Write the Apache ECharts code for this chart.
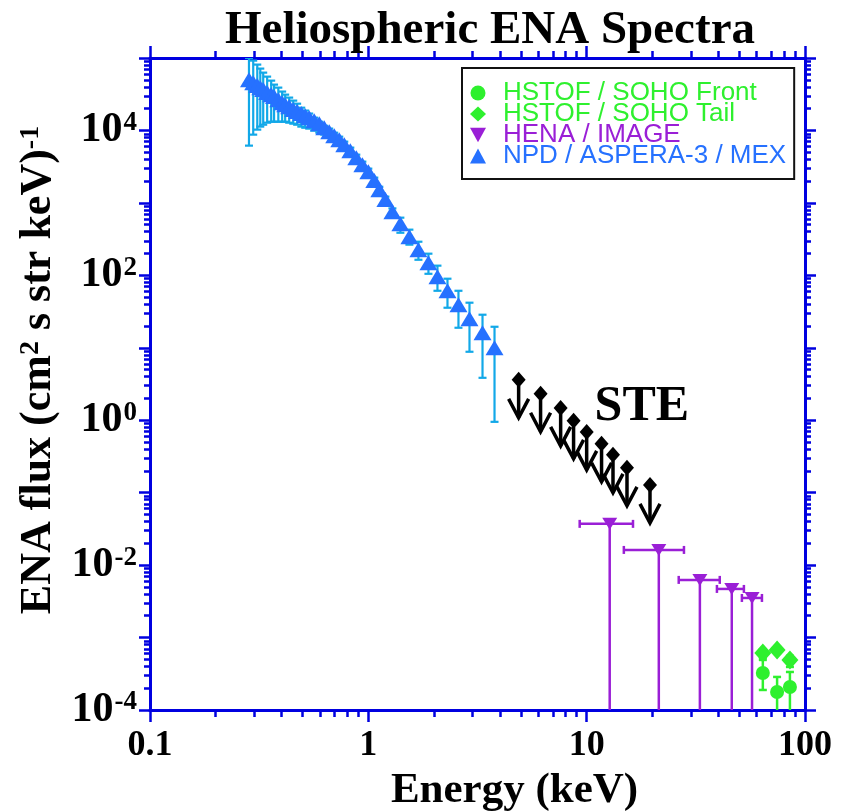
<!DOCTYPE html>
<html>
<head>
<meta charset="utf-8">
<title>Heliospheric ENA Spectra</title>
<script src="https://cdn.jsdelivr.net/npm/echarts@6/dist/echarts.min.js"></script>
<style>
  html, body { margin: 0; padding: 0; background: #fff; }
  #chart { width: 853px; height: 812px; }
</style>
</head>
<body>
<div id="chart"></div>
<script>
// Tick values (log axes)
const X_MAJOR = [0.1, 1, 10, 100]
const X_MINOR = [0.2, 0.3, 0.4, 0.5, 0.6, 0.7, 0.8, 0.9, 2, 3, 4, 5, 6, 7, 8, 9, 20, 30, 40, 50, 60, 70, 80, 90]
const Y_MAJOR = [1e-4, 1e-3, 1e-2, 1e-1, 1, 10, 100, 1e3, 1e4, 1e5]
const Y_LABELS = [1e-4, 1e-2, 1, 100, 1e4]
const Y_MINOR = [
  2e-4, 3e-4, 4e-4, 5e-4, 6e-4, 7e-4, 8e-4, 9e-4,
  2e-3, 3e-3, 4e-3, 5e-3, 6e-3, 7e-3, 8e-3, 9e-3,
  0.02, 0.03, 0.04, 0.05, 0.06, 0.07, 0.08, 0.09,
  0.2, 0.3, 0.4, 0.5, 0.6, 0.7, 0.8, 0.9,
  2, 3, 4, 5, 6, 7, 8, 9,
  20, 30, 40, 50, 60, 70, 80, 90,
  200, 300, 400, 500, 600, 700, 800, 900,
  2e3, 3e3, 4e3, 5e3, 6e3, 7e3, 8e3, 9e3,
  2e4, 3e4, 4e4, 5e4, 6e4, 7e4, 8e4, 9e4
]

// NPD / ASPERA-3 / MEX
const NPD_E = [0.284, 0.297, 0.310, 0.320, 0.330, 0.344, 0.359, 0.370, 0.387, 0.403,
  0.416, 0.434, 0.453, 0.472, 0.493, 0.514, 0.536, 0.565, 0.596, 0.628,
  0.662, 0.698, 0.736, 0.776, 0.827, 0.881, 0.939, 1.0, 1.065, 1.123,
  1.197, 1.289, 1.402, 1.542, 1.696, 1.885, 2.073, 2.304, 2.587, 2.906, 3.334, 3.784]
const NPD_FLUX = [50000, 45700, 41600, 39000, 36600, 33300, 31200, 29300, 26600, 24200,
  22700, 21300, 19400, 18200, 17100, 16000, 15000, 13650, 12400, 10900,
  9620, 8470, 7460, 6370, 5260, 4210, 3370, 2700, 2030, 1520,
  1110, 755, 516, 341, 226, 149, 95.7, 61.2, 39.3, 25.2, 16.1, 10.0]
const NPD_HIGH = [100000, 92000, 81100, 71400, 62800, 55300, 48700, 42900, 39000, 34400,
  31200, 28400, 25800, 23400, 20600, 18800, 17100, 15000, 13200, 11600,
  10600, 9300, 8200, 7000, 5790, 4630, 3710, 2970, 2230, 1670,
  1220, 840, 625, 427, 291, 199, 136, 89.8, 61.2, 41.9, 28.6, 19.5]
const NPD_LOW = [6170, 8750, 10260, 11300, 12000, 12800, 13200, 13200, 13200, 13200,
  13200, 12800, 12400, 12000, 11300, 10900, 10600, 9930, 9330, 8750,
  8500, 7450, 6560, 5600, 4630, 3700, 2970, 2380, 1790, 1340,
  980, 660, 387, 265, 164, 105, 61.2, 35.7, 18.9, 8.81, 3.85, 0.95]

// STE upper limits
const STE_E = [4.88, 6.15, 7.60, 8.71, 10.0, 11.7, 13.2, 15.3, 19.5]
const STE_FLUX = [3.61, 2.32, 1.48, 0.98, 0.69, 0.472, 0.333, 0.220, 0.128]
const STE_LABEL_AT = [17.9, 1.54]

// HENA / IMAGE
const HENA_E = [12.75, 21.4, 33.0, 46.2, 57.2]
const HENA_FLUX = [0.0371, 0.0162, 0.00625, 0.00469, 0.00352]
const HENA_EMIN = [9.29, 14.8, 26.4, 39.5, 51.4]
const HENA_EMAX = [16.3, 27.9, 40.7, 52.5, 63.5]

// HSTOF / SOHO
const HSTOF_E = [64.1, 74.5, 85.3]
const FRONT_FLUX = [3.24e-4, 1.77e-4, 2.08e-4]
const FRONT_LOW = [1.89e-4, 9e-5, 9e-5]
const FRONT_HIGH = [4.91e-4, 2.86e-4, 3.35e-4]
const TAIL_FLUX = [6.12e-4, 6.75e-4, 4.91e-4]
const TAIL_LOW = [5.22e-4, 6.2e-4, 3.93e-4]
const TAIL_HIGH = [6.9e-4, 7.3e-4, 5.6e-4]

const GREEN = '#2ef02e'
const PURPLE = '#9a1fd6'
const BLUE = '#2671ff'
const BLUE_ERR = '#12a8e8'
const AXIS = '#0000e0'
const SERIF = '"Liberation Serif", "Times New Roman", serif'
const SANS = '"Liberation Sans", Arial, sans-serif'

// same rectangle for both grids; no auto-shrinking for labels
const GRID = { left: 150, top: 58, right: 48, bottom: 102, containLabel: false, outerBoundsMode: 'none' }

function logAxis(grid, pos, min, max, ticks, len, extra) {
  return Object.assign({
    type: 'log', logBase: 10, gridIndex: grid, position: pos, min, max,
    axisLine: { show: true, onZero: false, lineStyle: { color: AXIS, width: 3 } },
    axisTick: { show: true, customValues: ticks, length: len, lineStyle: { color: AXIS, width: 2.5 } },
    axisLabel: { show: false },
    splitLine: { show: false },
    minorTick: { show: false },
  }, extra || {})
}

// vertical error bars with caps
function vErr(color, cap, width) {
  return function (params, api) {
    const lo = api.coord([api.value(0), api.value(1)])
    const hi = api.coord([api.value(0), api.value(2)])
    const st = { stroke: color, lineWidth: width }
    return {
      type: 'group',
      children: [
        { type: 'line', shape: { x1: lo[0], y1: lo[1], x2: hi[0], y2: hi[1] }, style: st },
        { type: 'line', shape: { x1: hi[0] - cap, y1: hi[1], x2: hi[0] + cap, y2: hi[1] }, style: st },
        { type: 'line', shape: { x1: lo[0] - cap, y1: lo[1], x2: lo[0] + cap, y2: lo[1] }, style: st },
      ],
    }
  }
}

function henaErr(params, api) {
  const p = api.coord([api.value(0), api.value(1)])
  const a = api.coord([api.value(2), api.value(1)])
  const b = api.coord([api.value(3), api.value(1)])
  const bottom = params.coordSys.y + params.coordSys.height
  const st = { stroke: PURPLE, lineWidth: 2.5 }
  return {
    type: 'group',
    children: [
      { type: 'line', shape: { x1: a[0], y1: a[1], x2: b[0], y2: b[1] }, style: st },
      { type: 'line', shape: { x1: a[0], y1: a[1] - 4, x2: a[0], y2: a[1] + 4 }, style: st },
      { type: 'line', shape: { x1: b[0], y1: b[1] - 4, x2: b[0], y2: b[1] + 4 }, style: st },
      { type: 'line', shape: { x1: p[0], y1: p[1], x2: p[0], y2: bottom }, style: st },
    ],
  }
}

function steArrow(params, api) {
  const p = api.coord([api.value(0), api.value(1)])
  const x = p[0], y = p[1]
  return {
    type: 'group',
    children: [
      { type: 'polygon', shape: { points: [[x, y - 8], [x + 7, y], [x, y + 8], [x - 7, y]] }, style: { fill: '#000' } },
      { type: 'line', shape: { x1: x, y1: y + 6, x2: x, y2: y + 38 }, style: { stroke: '#000', lineWidth: 3.5 } },
      { type: 'polyline', shape: { points: [[x - 10, y + 19], [x, y + 38], [x + 10, y + 19]] }, style: { stroke: '#000', lineWidth: 3.5, fill: 'none' } },
    ],
  }
}

const chart = echarts.init(document.getElementById('chart'), null, { renderer: 'canvas' })

const option = {
  animation: false,
  backgroundColor: '#fff',
  title: {
    text: 'Heliospheric ENA Spectra',
    left: 485, top: 2, textAlign: 'center',
    textStyle: { fontFamily: SERIF, fontWeight: 'bold', fontSize: 47, color: '#000' },
  },
  grid: [Object.assign({}, GRID), Object.assign({}, GRID)],
  legend: {
    orient: 'vertical', left: 462, top: 68,
    padding: [12, 8, 10, 8], itemGap: -5, itemWidth: 16, itemHeight: 15,
    backgroundColor: '#fff', borderColor: '#111', borderWidth: 2,
    selectedMode: false,
    textStyle: { fontFamily: SANS, fontSize: 26, lineHeight: 26, padding: [0, 0, 0, 12] },
    data: [
      { name: 'HSTOF / SOHO Front', icon: 'circle', textStyle: { color: GREEN } },
      { name: 'HSTOF / SOHO Tail', icon: 'diamond', textStyle: { color: GREEN } },
      { name: 'HENA / IMAGE', icon: 'path://M0,0L10,0L5,9Z', textStyle: { color: PURPLE } },
      { name: 'NPD / ASPERA-3 / MEX', icon: 'triangle', textStyle: { color: BLUE } },
    ],
  },
  xAxis: [
    logAxis(0, 'bottom', 0.1, 100, X_MAJOR, 12, {
      axisLabel: {
        show: true, customValues: X_MAJOR, margin: 18,
        fontFamily: SERIF, fontWeight: 'bold', fontSize: 36, color: '#000',
        formatter: v => String(+Number(v).toPrecision(3)),
      },
      name: 'Energy (keV)', nameLocation: 'middle', nameGap: 58,
      nameTextStyle: { fontFamily: SERIF, fontWeight: 'bold', fontSize: 43, color: '#000', padding: [0, 0, 0, 74] },
    }),
    logAxis(0, 'top', 0.1, 100, X_MAJOR, 12),
    logAxis(1, 'bottom', 0.1, 100, X_MINOR, 7),
    logAxis(1, 'top', 0.1, 100, X_MINOR, 7),
  ],
  yAxis: [
    logAxis(0, 'left', 1e-4, 1e5, Y_MAJOR, 11, {
      axisLabel: {
        show: true, customValues: Y_LABELS, margin: 13,
        formatter: v => '{b|10}{s|' + Math.round(Math.log10(v)) + '}',
        rich: {
          b: { fontFamily: SERIF, fontWeight: 'bold', fontSize: 42, color: '#000', lineHeight: 42 },
          s: { fontFamily: SERIF, fontWeight: 'bold', fontSize: 27, color: '#000', lineHeight: 42, verticalAlign: 'top', padding: [0, 0, 0, 1] },
        },
      },
      name: 'ENA flux (cm{s|2} s str keV){s|-1}', nameLocation: 'middle', nameGap: 84,
      nameTextStyle: {
        fontFamily: SERIF, fontWeight: 'bold', fontSize: 44, color: '#000', padding: [0, 0, 0, 28],
        rich: {
          s: { fontFamily: SERIF, fontWeight: 'bold', fontSize: 28, color: '#000', verticalAlign: 'top', lineHeight: 44 },
        },
      },
    }),
    logAxis(0, 'right', 1e-4, 1e5, Y_MAJOR, 11),
    logAxis(1, 'left', 1e-4, 1e5, Y_MINOR, 6),
    logAxis(1, 'right', 1e-4, 1e5, Y_MINOR, 6),
  ],
  series: [
    {
      type: 'custom', name: 'npd-err', xAxisIndex: 0, yAxisIndex: 0, clip: true, z: 2,
      renderItem: vErr(BLUE_ERR, 4, 2.2),
      data: NPD_E.map((e, i) => [e, NPD_LOW[i], NPD_HIGH[i]]),
    },
    {
      type: 'custom', name: 'hena-err', xAxisIndex: 0, yAxisIndex: 0, clip: true, z: 2,
      renderItem: henaErr,
      data: HENA_E.map((e, i) => [e, HENA_FLUX[i], HENA_EMIN[i], HENA_EMAX[i]]),
    },
    {
      type: 'custom', name: 'front-err', xAxisIndex: 0, yAxisIndex: 0, clip: true, z: 2,
      renderItem: vErr(GREEN, 4, 2.5),
      data: HSTOF_E.map((e, i) => [e, FRONT_LOW[i], FRONT_HIGH[i]]),
    },
    {
      type: 'custom', name: 'tail-err', xAxisIndex: 0, yAxisIndex: 0, clip: true, z: 2,
      renderItem: vErr(GREEN, 4, 2.5),
      data: HSTOF_E.map((e, i) => [e, TAIL_LOW[i], TAIL_HIGH[i]]),
    },
    {
      type: 'custom', name: 'STE', xAxisIndex: 0, yAxisIndex: 0, clip: true, z: 3,
      renderItem: steArrow,
      data: STE_E.map((e, i) => [e, STE_FLUX[i]]),
    },
    {
      name: 'HSTOF / SOHO Front', type: 'scatter', symbol: 'circle', symbolSize: 14, z: 4,
      itemStyle: { color: GREEN, opacity: 1 },
      data: HSTOF_E.map((e, i) => [e, FRONT_FLUX[i]]),
    },
    {
      name: 'HSTOF / SOHO Tail', type: 'scatter', symbol: 'diamond', symbolSize: [17, 19], z: 4,
      itemStyle: { color: GREEN, opacity: 1 },
      data: HSTOF_E.map((e, i) => [e, TAIL_FLUX[i]]),
    },
    {
      name: 'HENA / IMAGE', type: 'scatter', symbol: 'path://M0,0L10,0L5,9Z', symbolSize: [15, 12], z: 4,
      itemStyle: { color: PURPLE, opacity: 1 },
      data: HENA_E.map((e, i) => [e, HENA_FLUX[i]]),
    },
    {
      name: 'NPD / ASPERA-3 / MEX', type: 'scatter', symbol: 'triangle', symbolSize: [18, 15], z: 4,
      itemStyle: { color: BLUE, opacity: 1 },
      data: NPD_E.map((e, i) => [e, NPD_FLUX[i]]),
    },
    {
      name: 'ste-label', type: 'scatter', symbolSize: 1, z: 5, silent: true,
      itemStyle: { color: '#fff', opacity: 0 },
      label: {
        show: true, position: 'inside', formatter: 'STE', opacity: 1,
        textBorderWidth: 0, textShadowBlur: 0,
        fontFamily: SERIF, fontWeight: 'bold', fontSize: 50, color: '#000',
      },
      data: [STE_LABEL_AT],
    },
  ],
}

chart.setOption(option)
</script>
</body>
</html>
